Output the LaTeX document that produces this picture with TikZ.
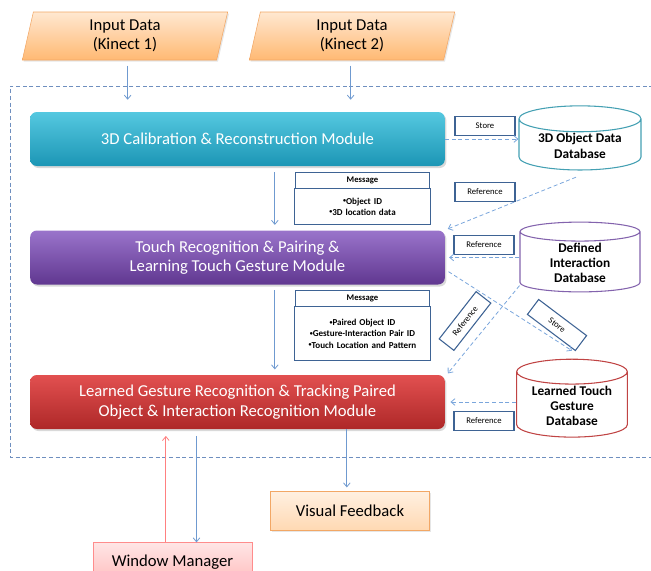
\documentclass[tikz,border=0pt]{standalone}
\usepackage{fontspec}
\setmainfont{Carlito}
\usetikzlibrary{shapes.geometric,arrows.meta,positioning,shadows}

% colours
\definecolor{arrowblue}{HTML}{6F9AD0}
\definecolor{dashblue}{HTML}{7AA6DC}
\definecolor{framedash}{HTML}{6F8FBF}
\definecolor{tagblue}{HTML}{3E6394}
\definecolor{orangeline}{HTML}{F2A765}
\definecolor{calibtop}{HTML}{55C8E0}
\definecolor{calibbot}{HTML}{1C96B5}
\definecolor{touchtop}{HTML}{9A74CB}
\definecolor{touchbot}{HTML}{603790}
\definecolor{tracktop}{HTML}{E25050}
\definecolor{trackbot}{HTML}{AE2828}

% small bullet for the message lists
\newcommand{\msgdot}{\raisebox{0.35ex}{\fontsize{4.5}{5}\selectfont\textbullet}}

\tikzset{
  module/.style={rounded corners=5pt, minimum width=311pt, minimum height=40.5pt,
    text=white, align=center, font=\fontsize{12.5}{14.5}\selectfont,
    drop shadow={opacity=0.3, shadow xshift=1.2pt, shadow yshift=-1.5pt}},
  indata/.style={trapezium, trapezium left angle=75, trapezium right angle=105,
    trapezium stretches body, minimum width=154pt, minimum height=36pt,
    draw=orangeline, top color=orange!18, bottom color=orange!55,
    align=center, font=\fontsize{12.5}{14.5}\selectfont,
    drop shadow={opacity=0.2, shadow xshift=1pt, shadow yshift=-1.2pt}},
  outbox/.style={draw, minimum width=119pt, minimum height=29pt,
    font=\fontsize{12.5}{14.5}\selectfont,
    drop shadow={opacity=0.2, shadow xshift=1pt, shadow yshift=-1.2pt}},
  database/.style={cylinder, shape border rotate=90, aspect=0.3, draw, thick,
    inner sep=1pt, fill=white, align=center, font=\bfseries\fontsize{10}{11.5}\selectfont},
  tag/.style={draw=tagblue, thick, fill=white, minimum width=45pt,
    minimum height=14pt, inner sep=1pt, font=\fontsize{6.5}{7}\selectfont},
  msghead/.style={draw=tagblue, semithick, minimum width=101pt, minimum height=12pt,
    inner sep=1pt, font=\bfseries\fontsize{6.5}{7}\selectfont},
  msgbody/.style={draw=tagblue, semithick, minimum width=101pt, text width=95pt,
    align=center, font=\bfseries\fontsize{6.8}{8.3}\selectfont},
  flow/.style={-{Straight Barb[length=3pt,width=5pt]}, arrowblue, semithick},
  link/.style={flow, dashblue, dash pattern=on 3pt off 2pt},
}

\begin{document}
\begin{tikzpicture}[x=0.75pt,y=-0.75pt]
  \useasboundingbox (0,0) rectangle (651,571);

  % dashed frame round the system
  \draw[framedash, dash pattern=on 3pt off 2pt] (660,86) -- (10,86) -- (10,457) -- (660,457);

  % inputs
  \node[indata] (kin1) at (125,36) {Input Data\\(Kinect 1)};
  \node[indata] (kin2) at (352,36) {Input Data\\(Kinect 2)};

  % modules
  \node[module, top color=calibtop, bottom color=calibbot] (calib) at (237.5,139)
    {3D Calibration \& Reconstruction Module};
  \node[module, top color=touchtop, bottom color=touchbot] (touch) at (237.5,257.5)
    {Touch Recognition \& Pairing \&\\Learning Touch Gesture Module};
  \node[module, top color=tracktop, bottom color=trackbot] (track) at (237.5,402)
    {Learned Gesture Recognition \& Tracking Paired\\Object \& Interaction Recognition Module};

  % databases
  \node[database, draw=calibtop!80!black, minimum width=91.5pt] (objdb) at (580,146)
    {3D Object Data\\Database};
  \node[database, draw=touchtop!85!black, minimum width=90pt] (defdb) at (580,263)
    {Defined\\Interaction\\Database};
  \node[database, draw=tracktop!85!black, minimum width=83pt] (lrndb) at (572,406)
    {Learned Touch\\Gesture\\Database};

  % messages
  \node[msghead] (msgA) at (362.5,180) {Message};
  \node[msgbody, below=0pt of msgA, minimum height=27pt] (msgAbody)
    {\msgdot Object ID\\\msgdot 3D location data};
  \node[msghead] (msgB) at (362.5,298) {Message};
  \node[msgbody, below=0pt of msgB, minimum height=40.5pt] (msgBbody)
    {\msgdot Paired Object ID\\\msgdot Gesture-Interaction Pair ID\\\msgdot Touch Location and Pattern};

  % tags on the links
  \node[tag] (store1) at (485,126) {Store};
  \node[tag] (ref1) at (485,192) {Reference};
  \node[tag] (ref2) at (484,245) {Reference};
  \node[tag, rotate=52] (ref3) at (465,321) {Reference};
  \node[tag, rotate=-37] (store2) at (557,325) {Store};
  \node[tag] (ref4) at (484,421) {Reference};

  % outputs
  \node[outbox, draw=orangeline, top color=orange!12, bottom color=orange!30] (visual) at (350,511) {Visual Feedback};
  \node[outbox, draw=red!45, top color=red!10, bottom color=red!25] (winman) at (172.5,562) {Window Manager};

  % solid flows
  \draw[flow, shorten <=4pt, shorten >=9pt] ([xshift=2pt]kin1.south) -- ([xshift=2pt]kin1.south |- calib.north);
  \draw[flow, shorten <=4pt, shorten >=9pt] ([xshift=-1pt]kin2.south) -- ([xshift=-1pt]kin2.south |- calib.north);
  \draw[flow, shorten <=4.5pt, shorten >=4pt] ([xshift=28pt]calib.south) -- ([xshift=28pt]touch.north);
  \draw[flow, shorten <=4pt, shorten >=4pt] ([xshift=28pt]touch.south) -- ([xshift=28pt]track.north);
  \draw[flow, shorten >=3pt] ([xshift=82pt]track.south) -- ([xshift=82pt]track.south |- visual.north);
  \draw[flow, red!50, shorten >=5pt] ([xshift=-5pt]winman.north) -- ([xshift=-5pt]winman.north |- track.south);
  \draw[flow, shorten <=5pt] ([xshift=18pt]winman.north |- track.south) -- ([xshift=18pt]winman.north);

  % dashed links to and from the databases
  \draw[link] (calib.east) -- (objdb.west |- calib.east);
  \draw[link] ([xshift=-3pt,yshift=-5pt]objdb.south) -- ([xshift=2pt,yshift=1pt]touch.north east);
  \draw[link, shorten >=3pt] (defdb.west |- touch.east) -- (touch.east);
  \draw[link, shorten <=3pt] ([yshift=-9pt]touch.east) -- ([yshift=6pt]lrndb.north);
  \draw[link] ([yshift=-17pt]defdb.west) -- ([xshift=2pt,yshift=1pt]track.north east);
  \draw[link, shorten >=4pt] (lrndb.west |- track.east) -- (track.east);
\end{tikzpicture}
\end{document}
